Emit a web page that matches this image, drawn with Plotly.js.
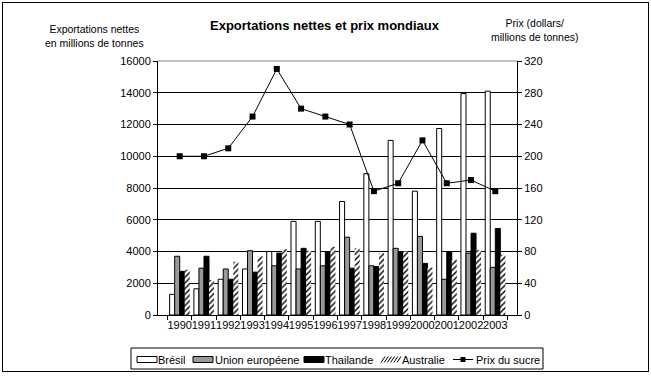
<!DOCTYPE html>
<html>
<head>
<meta charset="utf-8">
<script src="https://cdn.plot.ly/plotly-3.0.1.min.js"></script>
<style>
body{margin:0;padding:0;background:#fff;}
#wrap{position:relative;width:651px;height:376px;}
#chart{width:651px;height:376px;}
#frame{position:absolute;left:2px;top:2px;width:645px;height:368px;border:1px solid #000;pointer-events:none;}
</style>
</head>
<body>
<div id="wrap"><div id="chart"></div><div id="frame"></div></div>
<script>
const years = ['1990','1991','1992','1993','1994','1995','1996','1997','1998','1999','2000','2001','2002','2003'];
const bresil = [1300,1650,2250,2900,4000,5900,5900,7150,8900,11000,7800,11750,13950,14100];
const ue = [3700,2950,2900,4050,3100,2900,3100,4900,3100,4200,4950,2250,3900,3000];
const thailande = [2750,3700,2250,2700,3900,4200,4000,2950,3050,4000,3250,4000,5150,5450];
const australie = [2850,2200,3350,3700,4150,4050,4300,4200,3900,4000,3000,3500,4100,3800];
const prix = [200,200,210,250,310,260,250,240,156,166,220,166,170,156];
const seriesNames = ['Brésil','Union européene','Thailande','Australie','Prix du sucre'];

const font = "Liberation Sans, Arial, sans-serif";
const W = 651, H = 376, ML = 158, MR = 134, MT = 61, MB = 61;
const PW = W - ML - MR, PH = H - MT - MB;
const px = x => (x - ML) / PW;
const py = y => (H - MB - y) / PH;

const traces = [
  {type:'bar', name:seriesNames[0], x:years, y:bresil, marker:{color:'#ffffff', line:{color:'#000', width:1}}},
  {type:'bar', name:seriesNames[1], x:years, y:ue, marker:{color:'#999999', line:{color:'#000', width:1}}},
  {type:'bar', name:seriesNames[2], x:years, y:thailande, marker:{color:'#000000', line:{color:'#000', width:1}}},
  {type:'bar', name:seriesNames[3], x:years, y:australie, marker:{color:'#ffffff', line:{color:'#ffffff', width:0}, pattern:{shape:'/', fgcolor:'#000', bgcolor:'#fff', size:4, solidity:0.35}}},
  {type:'scatter', mode:'lines+markers', name:seriesNames[4], x:years, y:prix, yaxis:'y2', line:{color:'#000', width:1}, marker:{symbol:'square', size:6, color:'#000'}}
];

// manual legend (box, swatches, labels)
const shapes = [
  {type:'line', xref:'paper', yref:'paper', x0:0, x1:1, y0:1, y1:1, line:{color:'#888', width:1}, layer:'above'},
  {type:'rect', xref:'paper', yref:'paper', x0:px(131), x1:px(543), y0:py(348), y1:py(369), line:{color:'#000', width:1}, fillcolor:'#fff', layer:'above'}
];
const swX = [137, 193, 304, 381, 453];
const txtX = [157, 214, 324, 401, 475];
const sy0 = 356.5, sy1 = 362.5, sc = 359.5;
shapes.push({type:'rect', xref:'paper', yref:'paper', x0:px(swX[0]), x1:px(swX[0]+20), y0:py(sy1), y1:py(sy0), line:{color:'#000', width:1}, fillcolor:'#fff', layer:'above'});
shapes.push({type:'rect', xref:'paper', yref:'paper', x0:px(swX[1]), x1:px(swX[1]+20), y0:py(sy1), y1:py(sy0), line:{color:'#000', width:1}, fillcolor:'#999999', layer:'above'});
shapes.push({type:'rect', xref:'paper', yref:'paper', x0:px(swX[2]), x1:px(swX[2]+20), y0:py(sy1), y1:py(sy0), line:{color:'#000', width:1}, fillcolor:'#000', layer:'above'});
for (let i = 0; i < 6; i++) {
  const x0 = swX[3] + i * 3.2;
  shapes.push({type:'line', xref:'paper', yref:'paper', x0:px(x0), x1:px(x0+4), y0:py(sy1), y1:py(sy0), line:{color:'#000', width:1}, layer:'above'});
}
shapes.push({type:'line', xref:'paper', yref:'paper', x0:px(swX[4]), x1:px(swX[4]+20), y0:py(sc), y1:py(sc), line:{color:'#000', width:1}, layer:'above'});
shapes.push({type:'rect', xref:'paper', yref:'paper', x0:px(swX[4]+7.5), x1:px(swX[4]+12.5), y0:py(sc+2.5), y1:py(sc-2.5), line:{color:'#000', width:0}, fillcolor:'#000', layer:'above'});

const annotations = [
  {text:'<b>Exportations nettes et prix mondiaux</b>', xref:'paper', yref:'paper', x:px(325), y:py(25), xanchor:'center', yanchor:'middle', showarrow:false, font:{family:font, size:13}},
  {text:'Exportations nettes<br>en millions de tonnes', xref:'paper', yref:'paper', x:px(94), y:py(36), xanchor:'center', yanchor:'middle', showarrow:false, font:{family:font, size:10.5}},
  {text:'Prix (dollars/<br>millions de tonnes)', xref:'paper', yref:'paper', x:px(535), y:py(30), xanchor:'center', yanchor:'middle', showarrow:false, font:{family:font, size:10.5}}
];
seriesNames.forEach((n, i) => {
  annotations.push({text:n, xref:'paper', yref:'paper', x:px(txtX[i]-1), y:py(sc), xanchor:'left', yanchor:'middle', showarrow:false, font:{family:font, size:11}});
});

const layout = {
  width:W, height:H,
  margin:{l:ML, r:MR, t:MT, b:MB},
  paper_bgcolor:'#fff', plot_bgcolor:'#fff',
  font:{family:font, size:11, color:'#000'},
  barmode:'group', bargap:0.17, bargroupgap:0,
  showlegend:false,
  xaxis:{type:'category', tickson:'boundaries', ticks:'outside', ticklen:4, tickcolor:'#000', showline:true, linecolor:'#000', linewidth:1, showgrid:false, tickangle:0, tickfont:{family:font, size:11}, fixedrange:true},
  yaxis:{range:[0,16000], dtick:2000, tickformat:'d', ticks:'outside', ticklen:4, tickcolor:'#000', showline:true, linecolor:'#000', showgrid:true, gridcolor:'#000', gridwidth:1, zeroline:false, tickfont:{family:font, size:11}},
  yaxis2:{range:[0,320], dtick:40, tickformat:'d', overlaying:'y', side:'right', ticks:'outside', ticklen:4, tickcolor:'#000', showline:true, linecolor:'#000', showgrid:false, zeroline:false, tickfont:{family:font, size:11}},
  shapes:shapes,
  annotations:annotations
};
Plotly.newPlot('chart', traces, layout, {displayModeBar:false, staticPlot:true});
</script>
</body>
</html>
